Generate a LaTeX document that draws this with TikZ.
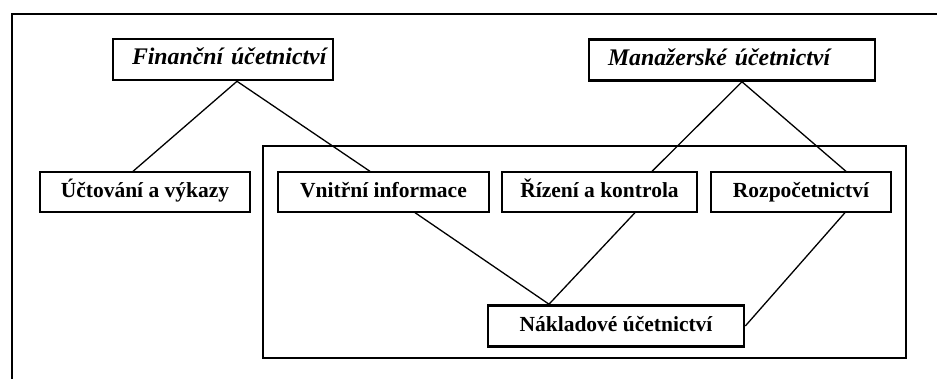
\documentclass[tikz,border=0pt]{standalone}
\usepackage{fontspec}
\setmainfont{Liberation Serif}
\usepackage{tikz}

\begin{document}
\begin{tikzpicture}[x=1pt,y=-1pt,
        box/.style={draw,line width=1.3pt,minimum height=40pt,inner sep=0pt,
          text height=15pt,text depth=4pt,
          font=\fontsize{21.5}{24}\selectfont\bfseries},
        mainbox/.style={box,line width=2.6pt,minimum height=41pt},
        top/.style={mainbox,align=left,text height=16pt,text depth=5pt,
          font=\fontsize{23.8}{26}\selectfont\bfseries\itshape},
        link/.style={line width=1.3pt}]
        \useasboundingbox (0,0) rectangle (937,379);
        % frames
        \draw[line width=1.3pt] (12,379) -- (12,14) -- (937,14);
        \draw[line width=1.3pt] (263,146) rectangle (906,358);
        % nodes
        \node[top,minimum width=220pt,text width=182pt] (fin) at (223,59.5) {\mbox{Finanční účetnictví}};
        \node[top,minimum width=286pt,text width=248pt] (man) at (732,60) {\mbox{Manažerské účetnictví}};
        \node[box,minimum width=210pt] (uct) at (145,192) {Účtování a výkazy};
        \node[box,minimum width=211pt] (vni) at (383.5,192) {Vnitřní informace};
        \node[box,minimum width=195pt] (riz) at (599.5,192) {Řízení a kontrola};
        \node[box,minimum width=180pt] (roz) at (801,192) {Rozpočetnictví};
        \node[mainbox,minimum width=256pt] (nak) at (616,326) {Nákladové účetnictví};
        % links
        \draw[link] ([xshift=14pt]fin.south) -- ([xshift=-12pt]uct.north);
        \draw[link] ([xshift=14pt]fin.south) -- ([xshift=-13.5pt]vni.north);
        \draw[link] ([xshift=10pt]man.south) -- ([xshift=52.5pt]riz.north);
        \draw[link] ([xshift=10pt]man.south) -- ([xshift=45pt]roz.north);
        \draw[link] ([xshift=31.5pt]vni.south) -- ([xshift=-67pt]nak.north);
        \draw[link] ([xshift=35.5pt]riz.south) -- ([xshift=-67pt]nak.north);
        \draw[link] ([xshift=44pt]roz.south) -- (nak.east);
\end{tikzpicture}
\end{document}
